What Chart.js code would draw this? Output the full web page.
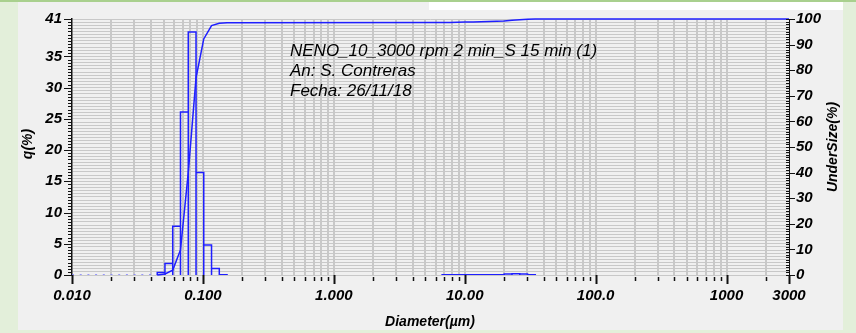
<!DOCTYPE html>
<html lang="es">
<head>
<meta charset="UTF-8">
<title>NENO_10_3000 rpm 2 min_S 15 min (1)</title>
<script src="https://cdn.jsdelivr.net/npm/chart.js"></script>
<style>
  body {
    margin: 0;
    width: 856px;
    height: 333px;
    overflow: hidden;
    position: relative;
    background-color: #e3efda;
  }
  .top-line {
    position: absolute;
    left: 0; top: 0;
    width: 856px; height: 2px;
    background-color: #a9d08e;
  }
  .panel {
    position: absolute;
    left: 18px; top: 2px;
    width: 825px; height: 328px;
    background-color: #f0f0f0;
  }
  .panel-strip {
    position: absolute;
    left: 429px; top: 2px;
    width: 414px; height: 8px;
    background-color: #ffffff;
  }
  #psd {
    position: absolute;
    left: 0; top: 0;
  }
</style>
</head>
<body>
<div class="top-line"></div>
<div class="panel"></div>
<div class="panel-strip"></div>
<canvas id="psd" width="856" height="333"></canvas>
<script>
// fine population: bin edges (um) and q(%) per bin
const fineEdges = [0.0448, 0.0513, 0.0588, 0.0674, 0.0773, 0.0886, 0.1015, 0.1164, 0.1334, 0.1529];
const fineQ = [0.4, 1.85, 7.8, 26.1, 38.9, 16.4, 4.8, 1.05, 0.05];

// coarse tail: bin edges (um) and q(%) per bin
const coarseEdges = [6.72, 7.70, 8.82, 10.11, 11.60, 13.30, 15.25, 17.48, 20.04, 22.97, 26.33, 30.19, 34.60];
const coarseQ = [0.03, 0.03, 0.03, 0.03, 0.03, 0.03, 0.03, 0.05, 0.15, 0.2, 0.15, 0.03];

// empty bins below the distribution
const zeroRange = [0.01, 0.0448];

// cumulative undersize (%)
const undersizeD = [0.0448, 0.0513, 0.0588, 0.0674, 0.0773, 0.0886, 0.1015, 0.1164, 0.1334, 0.1529,
  6.72, 7.70, 8.82, 10.11, 11.60, 13.30, 15.25, 17.48, 20.04, 22.97, 26.33, 30.19, 34.60, 3000];
const undersize = [0, 0.4, 1.9, 9.8, 40, 77, 92.2, 97.4, 98.3, 98.5,
  98.6, 98.65, 98.7, 98.8, 98.85, 98.9, 99.0, 99.1, 99.25, 99.5, 99.75, 99.95, 100, 100];

// axis labels
const xLabelValues = [0.01, 0.1, 1, 10, 100, 1000, 3000];
const xLabelText = ['0.010', '0.100', '1.000', '10.00', '100.0', '1000', '3000'];
const qMax = 41;
const qLabels = [0, 5, 10, 15, 20, 25, 30, 35, 41];
const underMax = 100;

const noteLines = ['NENO_10_3000 rpm 2 min_S 15 min (1)', 'An: S. Contreras', 'Fecha: 26/11/18'];

const blue = '#1f1fff';
const gridGray = '#c8c8c8';
const fontFamily = '"Liberation Sans", Arial, sans-serif';

// outline of a histogram: every bar drops back to the baseline
function histogramOutline(edges, q) {
  const pts = [{ x: edges[0], y: 0 }];
  q.forEach((v, i) => {
    pts.push({ x: edges[i], y: v }, { x: edges[i + 1], y: v }, { x: edges[i + 1], y: 0 });
  });
  return pts;
}

function labelFor(v) {
  const i = xLabelValues.findIndex(l => Math.abs(l - v) / l < 1e-6);
  return i < 0 ? '' : xLabelText[i];
}

// log ticks 1..9 per decade from 0.01 up to 3000
function logTicks() {
  const ticks = [];
  for (let e = -2; e <= 3; e++) {
    for (let m = 1; m <= 9; m++) {
      const v = parseFloat((m * Math.pow(10, e)).toPrecision(3));
      if (v <= 3000) ticks.push({ value: v });
    }
  }
  return ticks;
}

const decorPlugin = {
  id: 'decor',
  afterDraw(chart) {
    const { ctx, chartArea: a, scales } = chart;
    const { x, y, y2 } = scales;
    ctx.save();
    ctx.strokeStyle = '#111';

    // x tick marks under the axis
    x.ticks.forEach(t => {
      const px = Math.round(x.getPixelForValue(t.value)) + 0.5;
      const major = labelFor(t.value) !== '';
      ctx.lineWidth = major ? 2 : 1.5;
      ctx.beginPath();
      ctx.moveTo(px, major ? a.bottom : a.bottom + 2);
      ctx.lineTo(px, major ? a.bottom + 9 : a.bottom + 6);
      ctx.stroke();
    });

    // left axis ticks every 0.5
    ctx.lineWidth = 1;
    for (let v = 0; v <= qMax; v += 0.5) {
      const py = Math.round(y.getPixelForValue(v)) + 0.5;
      const major = qLabels.includes(v);
      ctx.beginPath();
      ctx.moveTo(a.left - (major ? 8 : 4), py);
      ctx.lineTo(a.left, py);
      ctx.stroke();
    }

    // right axis ticks every 1
    for (let v = 0; v <= underMax; v += 1) {
      const py = Math.round(y2.getPixelForValue(v)) + 0.5;
      const major = v % 10 === 0;
      ctx.beginPath();
      ctx.moveTo(a.right - 3, py);
      ctx.lineTo(a.right + (major ? 6 : 0), py);
      ctx.stroke();
    }

    // axis titles
    ctx.fillStyle = '#000';
    ctx.textAlign = 'center';
    ctx.textBaseline = 'middle';
    ctx.font = 'italic bold 14px ' + fontFamily;
    ctx.fillText('Diameter(\u00b5m)', 430, 322);
    ctx.save();
    ctx.translate(28, 144);
    ctx.rotate(-Math.PI / 2);
    ctx.fillText('q(%)', 0, 0);
    ctx.restore();
    ctx.save();
    ctx.translate(833, 147);
    ctx.rotate(-Math.PI / 2);
    ctx.fillText('UnderSize(%)', 0, 0);
    ctx.restore();

    // sample notes
    ctx.textAlign = 'left';
    ctx.textBaseline = 'alphabetic';
    ctx.font = 'italic 17px ' + fontFamily;
    noteLines.forEach((line, i) => ctx.fillText(line, 290, 56 + i * 20));

    ctx.restore();
  }
};

const tickFont = { family: fontFamily, size: 15, weight: 'bold', style: 'italic' };

new Chart(document.getElementById('psd'), {
  type: 'line',
  data: {
    datasets: [
      {
        label: 'UnderSize',
        data: undersizeD.map((d, i) => ({ x: d, y: undersize[i] })),
        yAxisID: 'y2',
        borderColor: blue,
        borderWidth: 1.5,
        pointRadius: 0,
        tension: 0,
        clip: 4
      },
      {
        label: 'q fine',
        data: histogramOutline(fineEdges, fineQ),
        yAxisID: 'y',
        borderColor: blue,
        borderWidth: 1.5,
        pointRadius: 0,
        tension: 0
      },
      {
        label: 'q coarse',
        data: histogramOutline(coarseEdges, coarseQ),
        yAxisID: 'y',
        borderColor: blue,
        borderWidth: 1.5,
        pointRadius: 0,
        tension: 0
      },
      {
        label: 'q empty',
        data: zeroRange.map(d => ({ x: d, y: 0 })),
        yAxisID: 'y',
        borderColor: '#7a7aff',
        borderWidth: 1.5,
        borderDash: [2, 5.7],
        pointRadius: 0
      }
    ]
  },
  options: {
    responsive: false,
    animation: false,
    layout: { padding: { top: 14, left: 0, right: 0, bottom: 0 } },
    plugins: {
      legend: { display: false },
      tooltip: { enabled: false }
    },
    scales: {
      x: {
        type: 'logarithmic',
        min: 0.01,
        max: 3000,
        afterBuildTicks: scale => { scale.ticks = logTicks(); },
        afterFit: scale => { scale.height = 58; },
        ticks: {
          autoSkip: false,
          maxRotation: 0,
          padding: 12,
          color: '#000',
          font: tickFont,
          callback: v => labelFor(v)
        },
        grid: {
          drawTicks: false,
          lineWidth: 2,
          color: c => (c.tick && (c.tick.value <= 0.01 || c.tick.value >= 3000)) ? 'rgba(0,0,0,0)' : gridGray
        },
        border: { display: false }
      },
      y: {
        position: 'left',
        min: 0,
        max: qMax,
        afterBuildTicks: scale => {
          const t = [];
          for (let v = 0; v <= qMax; v += 0.5) t.push({ value: v });
          scale.ticks = t;
        },
        afterFit: scale => { scale.width = 72; },
        ticks: {
          autoSkip: false,
          padding: 10,
          color: '#000',
          font: tickFont,
          callback: v => qLabels.includes(v) ? String(v) : ''
        },
        grid: { drawTicks: false, lineWidth: 1, color: gridGray },
        border: { display: true, color: '#111', width: 1.5 }
      },
      y2: {
        position: 'right',
        min: 0,
        max: underMax,
        afterBuildTicks: scale => {
          const t = [];
          for (let v = 0; v <= underMax; v += 10) t.push({ value: v });
          scale.ticks = t;
        },
        afterFit: scale => { scale.width = 67; },
        ticks: {
          autoSkip: false,
          padding: 7,
          color: '#000',
          font: tickFont
        },
        grid: { display: false, drawTicks: false },
        border: { display: true, color: '#111', width: 1 }
      }
    }
  },
  plugins: [decorPlugin]
});
</script>
</body>
</html>
